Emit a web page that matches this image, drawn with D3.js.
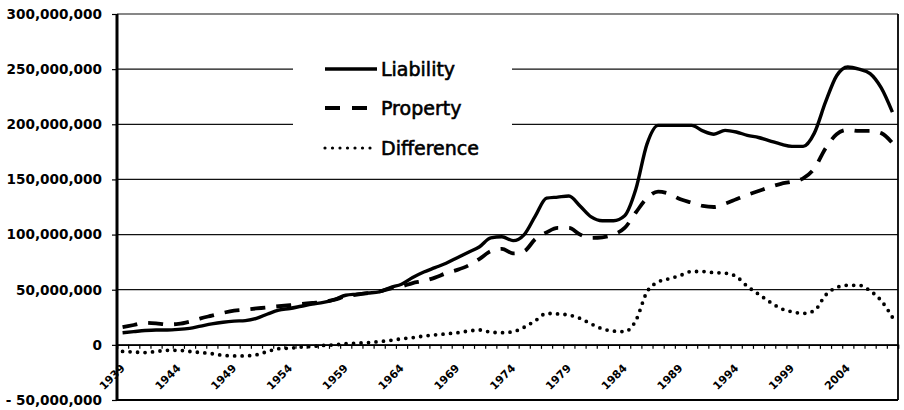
<!DOCTYPE html>
<html>
<head>
<meta charset="utf-8">
<script src="https://cdn.jsdelivr.net/npm/d3@7"></script>
<style>
  body { margin: 0; background: #fff; }
  svg { display: block; }
</style>
</head>
<body>
<div id="chart"></div>
<script>
// years on the category axis
const years = d3.range(1939, 2009);

// values in millions
const liability = [
  11, 12, 13, 13.5, 13.5, 14, 15, 17, 19, 20.5,
  21.5, 22, 24, 28, 31.5, 33, 35, 37, 38.5, 41,
  45, 46, 47, 48, 52, 55, 61, 66, 70, 74,
  79, 84, 89, 97, 98, 94.5, 100, 117, 133, 134,
  135, 126, 116, 112.5, 112.5, 117, 141, 182, 199, 199,
  199, 199, 194, 191, 194.5, 193, 190, 188, 185, 182,
  180, 180, 192, 220, 244, 252, 250, 246, 233, 211
];
const property = [
  16, 18, 20, 19.5, 18.5, 19, 21, 24, 26.5, 29,
  31, 32, 33, 34, 35, 36, 37, 38, 39, 41,
  44, 45.5, 47, 48.5, 51, 53, 56, 58, 61, 65,
  68, 72, 78, 85, 87, 83, 85, 96, 102, 106,
  106, 100, 97, 97.5, 100, 106, 120, 133, 139, 137,
  132, 129, 126, 125, 128, 132, 136, 139.5, 143, 146,
  148, 151, 160, 178, 191, 195, 194, 194, 192, 183
];
const difference = [
  -6, -6.5, -7, -6, -5, -5, -6, -7, -8, -9.5,
  -10, -10, -9, -6, -3.5, -3, -2, -1.5, -0.5, 0,
  1, 1.5, 2, 3, 4, 5.5, 6.5, 8, 9, 10,
  11, 12.5, 13.5, 11.5, 11, 12, 16, 22, 28.5, 28,
  27, 24, 19, 14.5, 12.5, 12, 22, 48, 57, 60,
  63, 66.5, 66.5, 65.5, 65, 62, 53, 46, 39, 33,
  30, 28.5, 31, 45, 52, 54, 54, 49, 40, 25
];

const seriesNames = ["Liability", "Property", "Difference"];
const yTicks = [-50e6, 0, 50e6, 100e6, 150e6, 200e6, 250e6, 300e6];
const labelYears = d3.range(1939, 2005, 5);

const W = 904, H = 410;
const margin = { top: 14, right: 6, bottom: 10, left: 117 };
const plotW = W - margin.left - margin.right;
const plotH = H - margin.top - margin.bottom;

const svg = d3.select("#chart").append("svg")
  .attr("width", W)
  .attr("height", H);

const g = svg.append("g")
  .attr("transform", `translate(${margin.left},${margin.top})`);

const x = d3.scalePoint()
  .domain(years)
  .range([0, plotW])
  .padding(0.5);

// boundaries between categories, for the tick marks
const xEdge = d3.scaleLinear()
  .domain([0, years.length])
  .range([0, plotW]);

const y = d3.scaleLinear()
  .domain([-50e6, 300e6])
  .range([plotH, 0]);

const fmt = d3.format(",");

// gridlines
g.append("g")
  .selectAll("line")
  .data(yTicks)
  .enter()
  .append("line")
  .attr("x1", 0)
  .attr("x2", plotW)
  .attr("y1", d => y(d))
  .attr("y2", d => y(d))
  .attr("stroke", "#111")
  .attr("stroke-width", 1.2);

// left axis
const yAxis = g.append("g")
  .call(d3.axisLeft(y).tickValues(yTicks).tickSize(5)
    .tickFormat(d => d < 0 ? "- " + fmt(-d) : fmt(d)));
yAxis.select(".domain").remove();
yAxis.selectAll(".tick line").attr("stroke", "#000").attr("stroke-width", 1.2);
yAxis.selectAll(".tick text")
  .attr("x", -15)
  .attr("font-family", "DejaVu Sans, Verdana, sans-serif")
  .attr("font-weight", "bold")
  .attr("font-size", 13.6)
  .attr("fill", "#000");

// category ticks on the zero line
const xAxis = g.append("g")
  .attr("transform", `translate(0,${y(0)})`)
  .call(d3.axisBottom(xEdge).tickValues(d3.range(years.length + 1)).tickSize(4).tickFormat(""));
xAxis.select(".domain").attr("stroke", "#000").attr("stroke-width", 1.5);
xAxis.selectAll(".tick line").attr("stroke", "#000").attr("stroke-width", 1.2);

// rotated year labels, one group per label
const yearLabels = g.append("g")
  .selectAll("g")
  .data(labelYears)
  .enter()
  .append("g")
  .attr("transform", d => `translate(${x(d) + 3},${y(0) + 24})`);

yearLabels.append("text")
  .attr("transform", "rotate(-45)")
  .attr("text-anchor", "end")
  .attr("font-family", "DejaVu Sans, Verdana, sans-serif")
  .attr("font-weight", "bold")
  .attr("font-size", 11)
  .text(d => d);

// frame
g.append("line").attr("x1", 0).attr("x2", plotW).attr("y1", plotH).attr("y2", plotH)
  .attr("stroke", "#000").attr("stroke-width", 2.2);
g.append("line").attr("x1", plotW).attr("x2", plotW).attr("y1", 0).attr("y2", plotH)
  .attr("stroke", "#000").attr("stroke-width", 1.8);
g.append("line").attr("x1", 0).attr("x2", 0).attr("y1", 0).attr("y2", plotH)
  .attr("stroke", "#000").attr("stroke-width", 3);

// series
const styles = [
  { data: liability, dash: null, width: 3.4, cap: "butt" },
  { data: property, dash: "15 11", width: 3.8, cap: "butt" },
  { data: difference, dash: "0 7.5", width: 3.8, cap: "round" }
];

const line = d3.line()
  .x((d, i) => x(years[i]))
  .y(d => y(d * 1e6))
  .curve(d3.curveMonotoneX);

styles.forEach(s => {
  g.append("path")
    .datum(s.data)
    .attr("d", line)
    .attr("fill", "none")
    .attr("stroke", "#000")
    .attr("stroke-width", s.width)
    .attr("stroke-linecap", s.cap)
    .attr("stroke-linejoin", "round")
    .attr("stroke-dasharray", s.dash);
});

// legend
const legend = svg.append("g");
legend.append("rect")
  .attr("x", 293).attr("y", 40)
  .attr("width", 219).attr("height", 132)
  .attr("fill", "#fff");

const rows = legend.selectAll("g.row")
  .data(seriesNames)
  .enter()
  .append("g")
  .attr("class", "row")
  .attr("transform", (d, i) => `translate(0,${[69, 108, 148][i]})`);

rows.append("line")
  .attr("x1", 325)
  .attr("x2", (d, i) => i === 2 ? 373 : 377)
  .attr("y1", 0).attr("y2", 0)
  .attr("stroke", "#000")
  .attr("stroke-width", (d, i) => i === 2 ? 3.2 : styles[i].width)
  .attr("stroke-linecap", (d, i) => styles[i].cap)
  .attr("stroke-dasharray", (d, i) => i === 1 ? "15 12" : (i === 2 ? "0 7.5" : null));

rows.append("text")
  .attr("x", 381)
  .attr("y", 7)
  .attr("font-family", "DejaVu Sans, Verdana, sans-serif")
  .attr("font-size", 19)
  .attr("stroke", "#000")
  .attr("stroke-width", 0.6)
  .text(d => d);
</script>
</body>
</html>
